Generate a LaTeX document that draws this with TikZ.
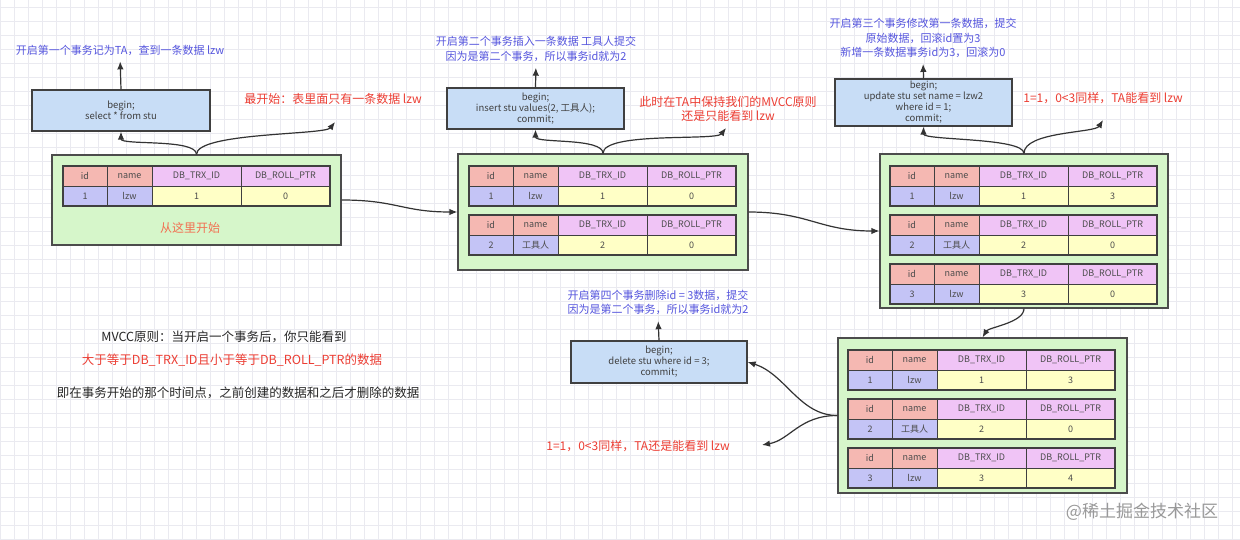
\documentclass[tikz,border=0pt]{standalone}
\usepackage{fontspec}
\setmainfont{Noto Sans CJK SC}
\usetikzlibrary{arrows.meta}

\definecolor{hdA}{RGB}{245,184,178}
\definecolor{hdB}{RGB}{240,196,246}
\definecolor{rwA}{RGB}{196,196,246}
\definecolor{rwB}{RGB}{255,255,198}
\definecolor{boxG}{RGB}{214,246,202}
\definecolor{boxC}{RGB}{200,221,246}
\definecolor{noteblue}{RGB}{86,86,222}
\definecolor{warnred}{RGB}{236,62,52}
\definecolor{startred}{RGB}{242,112,82}
\definecolor{gridgray}{RGB}{234,234,240}

\tikzset{
  cell/.style={draw=black!75, line width=0.6pt, minimum height=20pt, inner sep=0pt,
    outer sep=0pt, anchor=north west, font=\fontsize{9}{10}\selectfont, text=black!70},
  stage/.style={draw=black!70, line width=1.2pt, fill=boxG, inner sep=0pt},
  code/.style={draw=black!75, line width=1.2pt, fill=boxC, inner sep=0pt, align=center,
    font=\fontsize{9.5}{11}\selectfont, text=black!75},
  note/.style={text=noteblue, align=center, inner sep=1pt, font=\fontsize{11}{14.5}\selectfont},
  warn/.style={text=warnred, align=center, inner sep=1pt, font=\fontsize{12}{14}\selectfont},
  flow/.style={draw=black!80, line width=1.2pt, -{Latex[length=8pt,width=6.5pt]}},
  up/.style={flow, shorten >=5pt}
}

\newcommand{\mvcctab}[7]{%
  \node[cell, fill=hdA, minimum width=44pt] (#1h1) at (#2,#3) {id};
  \node[cell, fill=hdA, minimum width=45pt] (#1h2) at (#1h1.north east) {name};
  \node[cell, fill=hdB, minimum width=89pt] (#1h3) at (#1h2.north east) {DB\_TRX\_ID};
  \node[cell, fill=hdB, minimum width=89pt] (#1h4) at (#1h3.north east) {DB\_ROLL\_PTR};
  \node[cell, fill=rwA, minimum width=44pt] (#1v1) at (#1h1.south west) {#4};
  \node[cell, fill=rwA, minimum width=45pt] (#1v2) at (#1v1.north east) {#5};
  \node[cell, fill=rwB, minimum width=89pt] (#1v3) at (#1v2.north east) {#6};
  \node[cell, fill=rwB, minimum width=89pt] (#1v4) at (#1v3.north east) {#7};
  \draw[line width=1.2pt, draw=black!75] (#1h1.north west) rectangle (#1v4.south east);
}

\begin{document}
\begin{tikzpicture}[x=1pt, y=1pt]
\useasboundingbox (0,0) rectangle (1240,539);
\fill[white] (0,0) rectangle (1240,539);
\draw[gridgray, line width=0.4pt] (0,0) grid[step=14pt] (1240,539);

\node[stage, minimum width=289pt, minimum height=90pt] (g1) at (196.5,339) {};
\node[stage, minimum width=290pt, minimum height=116pt] (g2) at (603,327) {};
\node[stage, minimum width=288pt, minimum height=154pt] (g3) at (1024,308) {};
\node[stage, minimum width=289pt, minimum height=155pt] (g4) at (982.5,123.5) {};

\mvcctab{a}{63}{373}{1}{lzw}{1}{0}
\mvcctab{b}{469}{373}{1}{lzw}{1}{0}
\mvcctab{c}{469}{324}{2}{工具人}{2}{0}
\mvcctab{d}{890}{373}{1}{lzw}{1}{3}
\mvcctab{e}{890}{324}{2}{工具人}{2}{0}
\mvcctab{f}{890}{275}{3}{lzw}{3}{0}
\mvcctab{h}{848}{189}{1}{lzw}{1}{3}
\mvcctab{i}{848}{140}{2}{工具人}{2}{0}
\mvcctab{j}{848}{91}{3}{lzw}{3}{4}

\node[text=startred, font=\fontsize{12}{14}\selectfont] (start) at (190,311) {从这里开始};

\node[code, minimum width=178pt, minimum height=41pt] (c1) at (121,428.5) {begin;\\select * from stu};
\node[code, minimum width=177pt, minimum height=41pt] (c2) at (535.5,430.5) {begin;\\insert stu values(2, 工具人);\\commit;};
\node[code, minimum width=177pt, minimum height=47pt] (c3) at (923.5,436.5) {begin;\\update stu set name = lzw2\\where id = 1;\\commit;};
\node[code, minimum width=176pt, minimum height=42pt] (c4) at (659,177) {begin;\\delete stu where id = 3;\\commit;};

\node[note] (l1) at (120,489) {开启第一个事务记为TA，查到一条数据 lzw};
\node[note] (l2) at (536,490) {开启第二个事务插入一条数据 工具人提交\\因为是第二个事务，所以事务id就为2};
\node[note] (l3) at (923,501) {开启第三个事务修改第一条数据，提交\\原始数据，回滚id置为3\\新增一条数据事务id为3，回滚为0};
\node[note] (l4) at (658,236.5) {开启第四个事务删除id = 3数据，提交\\因为是第二个事务，所以事务id就为2};

\node[warn] (r1) at (333,440) {最开始：表里面只有一条数据 lzw};
\node[warn] (r2) at (728,430) {此时在TA中保持我们的MVCC原则\\还是只能看到 lzw};
\node[warn] (r3) at (1103,441) {1=1，0<3同样，TA能看到 lzw};
\node[warn] (r4) at (638,93) {1=1，0<3同样，TA还是能看到 lzw};

\node[text=black!85, font=\fontsize{12.5}{14}\selectfont] (m1) at (224,202) {MVCC原则：当开启一个事务后，你只能看到};
\node[text=warnred, font=\fontsize{12.5}{14}\selectfont] (m2) at (232,179) {大于等于DB\_TRX\_ID且小于等于DB\_ROLL\_PTR的数据};
\node[text=black!85, font=\fontsize{12.5}{14}\selectfont] (m3) at (238,146) {即在事务开始的那个时间点，之前创建的数据和之后才删除的数据};

\node[text=black!40, font=\fontsize{17}{19}\selectfont] (wm) at (1142,27) {@稀土掘金技术社区};

\coordinate (t1) at (335,417);
\coordinate (t2) at (726,411);
\coordinate (t3) at (1103,419);
\coordinate (t4) at (762,94);

\draw[up] (c1.north) -- (l1.south);
\draw[up] (c2.north) -- (l2.south);
\draw[up] (c3.north) -- (l3.south);
\draw[up] (c4.north) -- (l4.south);

\draw[flow] (g1.north) .. controls +(0,16) and +(0,-14) .. (c1.south);
\draw[flow] (g1.north) .. controls +(0,22) and +(-10,-13) .. (t1);
\draw[flow] (g2.north) .. controls +(0,16) and +(0,-14) .. (c2.south);
\draw[flow] (g2.north) .. controls +(0,22) and +(-10,-13) .. (t2);
\draw[flow] (g3.north) .. controls +(0,16) and +(0,-14) .. (c3.south);
\draw[flow] (g3.north) .. controls +(0,22) and +(-8,-13) .. (t3);

\draw[flow] (g1.east) .. controls +(55,0) and +(-55,0) .. (g2.west);
\draw[flow] (g2.east) .. controls +(60,0) and +(-60,0) .. (g3.west);
\draw[flow] (g3.south) .. controls +(0,-14) and +(6,10) .. (g4.north);

\draw[flow] (g4.west) .. controls +(-38,0) and +(38,-12) .. (c4.east);
\draw[flow] (g4.west) .. controls +(-38,0) and +(28,5) .. (t4);
\end{tikzpicture}
\end{document}
